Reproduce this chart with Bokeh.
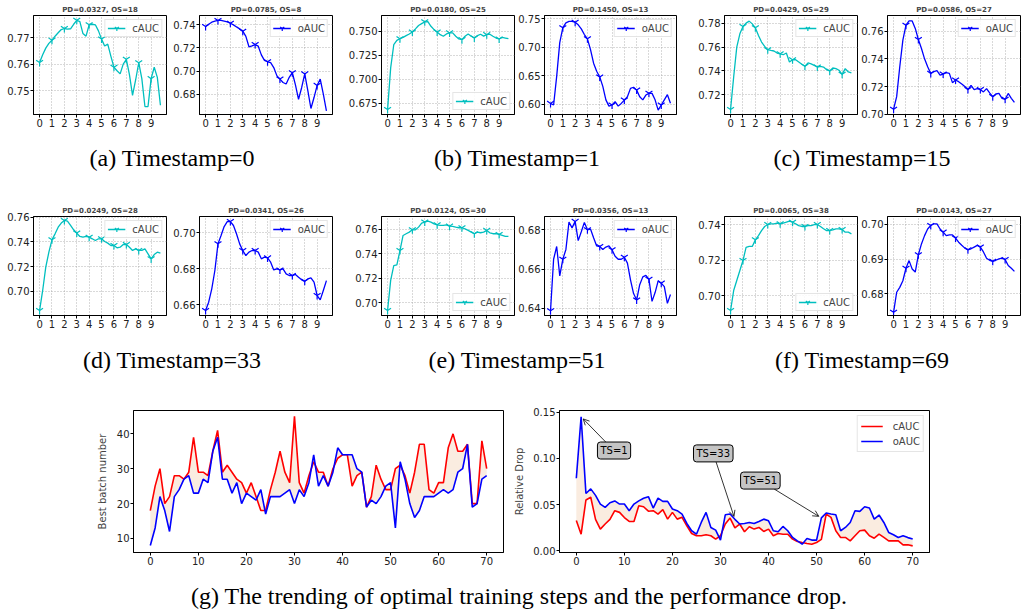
from bokeh.plotting import figure
from bokeh.layouts import column, row
from bokeh.models import (Range1d, FixedTicker, PrintfTickFormatter, Label, Div,
                          Arrow, OpenHead)
from bokeh.embed import file_html
from bokeh.resources import INLINE

# ---------------- data ----------------
N_PTS = 40
xs = [i * 0.25 for i in range(N_PTS)]          # sampling positions on the x axis
x_ticks_small = [0, 1, 2, 3, 4, 5, 6, 7, 8, 9]

cAUC_a = [0.7606,0.7635,0.7660,0.7678,0.7690,0.7705,0.7718,0.7730,0.7734,0.7732,
          0.7733,0.7750,0.7765,0.7760,0.7715,0.7705,0.7748,0.7750,0.7748,0.7725,
          0.7694,0.7668,0.7675,0.7630,0.7588,0.7575,0.7563,0.7600,0.7618,0.7560,
          0.7482,0.7540,0.7605,0.7545,0.7440,0.7440,0.7545,0.7588,0.7550,0.7445]
oAUC_a = [0.7386,0.7405,0.7423,0.7433,0.7438,0.7438,0.7432,0.7425,0.7414,0.7400,
          0.7382,0.7365,0.7345,0.7300,0.7210,0.7218,0.7229,0.7215,0.7140,0.7092,
          0.7080,0.7072,0.7030,0.6960,0.6930,0.6900,0.6887,0.6945,0.6985,0.6880,
          0.6755,0.6855,0.6975,0.6830,0.6675,0.6770,0.6875,0.6930,0.6800,0.6655]
cAUC_b = [0.6686,0.7120,0.7360,0.7406,0.7423,0.7437,0.7455,0.7472,0.7493,0.7525,
          0.7560,0.7580,0.7598,0.7600,0.7552,0.7517,0.7493,0.7465,0.7448,0.7472,
          0.7483,0.7483,0.7448,0.7420,0.7413,0.7448,0.7472,0.7448,0.7430,0.7455,
          0.7469,0.7450,0.7465,0.7470,0.7448,0.7430,0.7420,0.7437,0.7430,0.7423]
oAUC_b = [0.6018,0.5990,0.6490,0.7080,0.7340,0.7424,0.7450,0.7450,0.7436,0.7390,
          0.7320,0.7220,0.7145,0.6958,0.6720,0.6580,0.6480,0.6315,0.6080,0.5970,
          0.5990,0.6047,0.5970,0.6018,0.6076,0.6135,0.6280,0.6300,0.6250,0.6135,
          0.6080,0.6164,0.6193,0.6193,0.6080,0.5900,0.5990,0.6080,0.6170,0.6020]
cAUC_c = [0.7078,0.7350,0.7600,0.7711,0.7772,0.7800,0.7817,0.7794,0.7761,0.7697,
          0.7642,0.7606,0.7578,0.7572,0.7567,0.7550,0.7544,0.7536,0.7550,0.7475,
          0.7494,0.7494,0.7475,0.7456,0.7439,0.7467,0.7460,0.7447,0.7433,0.7439,
          0.7433,0.7411,0.7400,0.7425,0.7420,0.7406,0.7372,0.7420,0.7392,0.7385]
oAUC_c = [0.7036,0.7127,0.7343,0.7535,0.7643,0.7674,0.7674,0.7620,0.7540,0.7475,
          0.7400,0.7343,0.7295,0.7307,0.7315,0.7283,0.7290,0.7300,0.7295,0.7228,
          0.7247,0.7235,0.7218,0.7200,0.7178,0.7209,0.7178,0.7185,0.7178,0.7161,
          0.7185,0.7154,0.7127,0.7146,0.7150,0.7115,0.7108,0.7150,0.7115,0.7085]
cAUC_d = [0.6846,0.7008,0.7196,0.7317,0.7417,0.7465,0.7519,0.7552,0.7573,0.7568,
          0.7533,0.7498,0.7471,0.7444,0.7438,0.7444,0.7438,0.7425,0.7411,0.7425,
          0.7425,0.7403,0.7390,0.7371,0.7371,0.7352,0.7357,0.7379,0.7379,0.7357,
          0.7331,0.7344,0.7331,0.7331,0.7344,0.7304,0.7263,0.7298,0.7317,0.7309]
oAUC_d = [0.6569,0.6615,0.6689,0.6791,0.6939,0.6985,0.7035,0.7063,0.7063,0.7041,
          0.6994,0.6939,0.6902,0.6874,0.6893,0.6902,0.6902,0.6893,0.6856,0.6865,
          0.6861,0.6837,0.6794,0.6800,0.6794,0.6800,0.6772,0.6763,0.6763,0.6769,
          0.6754,0.6739,0.6731,0.6744,0.6750,0.6726,0.6652,0.6628,0.6680,0.6735]
cAUC_e = [0.6937,0.7183,0.7305,0.7311,0.7427,0.7551,0.7565,0.7578,0.7597,0.7597,
          0.7619,0.7652,0.7660,0.7668,0.7660,0.7646,0.7638,0.7633,0.7633,0.7638,
          0.7627,0.7625,0.7619,0.7614,0.7614,0.7605,0.7592,0.7578,0.7565,0.7578,
          0.7573,0.7578,0.7592,0.7573,0.7565,0.7565,0.7559,0.7551,0.7543,0.7543]
oAUC_e = [0.6387,0.6650,0.6715,0.6565,0.6650,0.6700,0.6840,0.6810,0.6843,0.6745,
          0.6790,0.6838,0.6800,0.6804,0.6760,0.6718,0.6715,0.6700,0.6712,0.6718,
          0.6698,0.6665,0.6650,0.6650,0.6660,0.6630,0.6545,0.6475,0.6442,0.6520,
          0.6560,0.6568,0.6548,0.6435,0.6480,0.6540,0.6528,0.6510,0.6425,0.6470]
cAUC_f = [0.6918,0.7030,0.7086,0.7142,0.7198,0.7272,0.7277,0.7277,0.7314,0.7338,
          0.7366,0.7389,0.7400,0.7404,0.7404,0.7408,0.7404,0.7408,0.7413,0.7419,
          0.7413,0.7404,0.7394,0.7389,0.7389,0.7394,0.7394,0.7400,0.7400,0.7389,
          0.7376,0.7366,0.7366,0.7370,0.7376,0.7376,0.7372,0.7357,0.7357,0.7348]
oAUC_f = [0.6747,0.6805,0.6819,0.6838,0.6874,0.6896,0.6872,0.6863,0.6913,0.6944,
          0.6968,0.6987,0.6997,0.7002,0.7002,0.6987,0.6978,0.6968,0.6970,0.6970,
          0.6961,0.6949,0.6940,0.6932,0.6927,0.6930,0.6935,0.6940,0.6935,0.6921,
          0.6903,0.6897,0.6894,0.6897,0.6901,0.6903,0.6899,0.6882,0.6874,0.6865]

timestamps = [0, 1, 15, 33, 51, 69]

# y tick values of the small panels  (cAUC, oAUC) per timestamp
yticks_c = [[0.75, 0.76, 0.77], [0.675, 0.700, 0.725, 0.750], [0.72, 0.74, 0.76, 0.78],
            [0.70, 0.72, 0.74, 0.76], [0.70, 0.72, 0.74, 0.76], [0.70, 0.72, 0.74]]
yticks_o = [[0.68, 0.70, 0.72, 0.74], [0.60, 0.65, 0.70, 0.75], [0.70, 0.72, 0.74, 0.76],
            [0.66, 0.68, 0.70], [0.64, 0.66, 0.68], [0.68, 0.69, 0.70]]
yfmt_c = ["%.2f", "%.3f", "%.2f", "%.2f", "%.2f", "%.2f"]
yfmt_o = ["%.2f", "%.2f", "%.2f", "%.2f", "%.2f", "%.2f"]
yrange_c = [(0.7410, 0.7783), (0.6635, 0.7664), (0.7036, 0.7864),
            (0.6806, 0.7605), (0.6896, 0.7706), (0.6890, 0.7445)]
yrange_o = [(0.6623, 0.7481), (0.5824, 0.7553), (0.6998, 0.7713),
            (0.6541, 0.7091), (0.6363, 0.6868), (0.6738, 0.7023)]
legend_loc_c = ["top_right", "bottom_right", "top_right", "top_right", "bottom_right", "bottom_right"]
legend_loc_o = ["top_right"] * 6

series_c = [cAUC_a, cAUC_b, cAUC_c, cAUC_d, cAUC_e, cAUC_f]
series_o = [oAUC_a, oAUC_b, oAUC_c, oAUC_d, oAUC_e, oAUC_f]

# trend over timestamps 0..70
ts_all = list(range(71))
best_c = [18,25,30,20,22,28,28,27,29,39, 29,29,28,35,41,29,31,29,27,26,
          23,26,22,18,18,24,29,35,29,26, 45,26,23,28,32,29,29,25,30,33,
          34,34,25,28,29,19,22,31,27,24, 24,30,31,28,23,29,37,37,24,23,
          26,26,36,40,35,35,37,20,20,38, 30]
best_o = [8,13,22,18,12,22,24,27,28,23, 23,27,26,35,39,27,27,23,26,20,
          23,22,21,24,17,22,22,22,23,24, 20,24,22,26,34,25,28,25,29,36,
          34,34,34,30,29,19,21,20,22,25, 26,13,32,27,20,16,18,22,22,22,
          23,24,23,24,29,30,37,19,20,27, 28]
drop_c = [0.0327,0.018,0.055,0.058,0.034,0.0235,0.029,0.034,0.0434,0.0416,
          0.036,0.0318,0.0318,0.0488,0.0477,0.0429,0.0434,0.0398,0.0445,0.0343,
          0.0416,0.0343,0.0362,0.0271,0.0188,0.0163,0.0163,0.0174,0.0163,0.0127,
          0.0163,0.029,0.0354,0.0249,0.029,0.0206,0.026,0.0235,0.0253,0.021,
          0.0235,0.0163,0.0188,0.018,0.018,0.0127,0.0101,0.009,0.008,0.0072,
          0.009,0.0124,0.0398,0.0362,0.0217,0.0145,0.0145,0.0108,0.0163,0.0217,
          0.0224,0.0163,0.0137,0.018,0.0145,0.0108,0.0108,0.0108,0.0065,0.0065,
          0.0054]
drop_o = [0.0785,0.145,0.062,0.067,0.060,0.0506,0.047,0.052,0.054,0.0506,
          0.0506,0.0434,0.0506,0.054,0.0568,0.0586,0.0463,0.0571,0.0535,0.0535,
          0.0452,0.0434,0.0398,0.0296,0.0217,0.018,0.0307,0.0416,0.0253,0.0224,
          0.0116,0.039,0.0398,0.0341,0.029,0.0296,0.0307,0.0296,0.0318,0.0343,
          0.0325,0.0217,0.0206,0.0264,0.0217,0.0145,0.0108,0.0072,0.0134,0.0116,
          0.0116,0.0356,0.0409,0.0398,0.039,0.0217,0.0253,0.0307,0.0434,0.0427,
          0.0477,0.0463,0.0343,0.0387,0.0307,0.0199,0.0174,0.0145,0.0163,0.0143,
          0.0127]
x_ticks_big = [0, 10, 20, 30, 40, 50, 60, 70]
y_ticks_best = [10, 20, 30, 40]
y_ticks_drop = [0.0, 0.05, 0.10, 0.15]

ann_text = ["TS=1", "TS=33", "TS=51"]
ann_ts = [1, 33, 51]
ann_x = [7.85, 28.5, 38.3]
ann_y = [0.1085, 0.1054, 0.0760]

captions_top = ["(a) Timestamp=0", "(b) Timestamp=1", "(c) Timestamp=15"]
captions_mid = ["(d) Timestamp=33", "(e) Timestamp=51", "(f) Timestamp=69"]
caption_bottom = "(g) The trending of optimal training steps and the performance drop."

# ---------------- layout constants ----------------
TOTAL_W = 1021
XR = (-0.49, 10.24)
COLS = [(33, 133, 1), (32, 133, 1), (48, 133, 1), (28, 133, 1), (47, 133, 1), (28, 134, 1)]
CAP_CENTERS = [172, 517, 862]
C_COLOR = "#00bfbf"
O_COLOR = "#0000ff"
FONT = "DejaVu Sans"


def style_axes(p, size="10px"):
    for ax in list(p.xaxis) + list(p.yaxis):
        ax.major_tick_out = 3
        ax.major_tick_in = 0
        ax.minor_tick_out = 0
        ax.minor_tick_in = 0
        ax.major_tick_line_color = "black"
        ax.axis_line_color = "black"
        ax.major_label_text_font = FONT
        ax.major_label_text_font_size = size
        ax.major_label_text_color = "#222222"
        ax.major_label_standoff = 1
        ax.axis_label_text_font = FONT
        ax.axis_label_text_font_size = size
        ax.axis_label_text_font_style = "normal"
    p.outline_line_color = "black"
    p.outline_line_width = 1
    p.border_fill_color = "white"
    p.background_fill_color = "white"


def small_plot(vals, label, color, yr, yticks, yfmt, loc, title, geom, top, fh, bottom):
    left, fw, right = geom
    p = figure(width=left + fw + right, height=top + fh + bottom,
               x_range=Range1d(*XR), y_range=Range1d(*yr),
               output_backend="svg", toolbar_location=None,
               min_border_left=left, min_border_right=right,
               min_border_top=top, min_border_bottom=bottom)
    p.line(xs, vals, line_color=color, line_width=1.3, legend_label=label)
    p.scatter(xs[::4], vals[::4], marker="y", size=8, line_color=color,
              line_width=1.2, legend_label=label)
    style_axes(p)
    p.xaxis.ticker = FixedTicker(ticks=x_ticks_small)
    p.yaxis.ticker = FixedTicker(ticks=yticks)
    p.yaxis.formatter = PrintfTickFormatter(format=yfmt)
    p.grid.grid_line_color = "#a0a0a0"
    p.grid.grid_line_dash = "1 2"
    p.grid.grid_line_width = 0.8
    lg = p.legend[0]
    lg.location = loc
    lg.label_text_font = FONT
    lg.label_text_font_size = "10px"
    lg.glyph_width = 18
    lg.glyph_height = 12
    lg.label_height = 12
    lg.padding = 2
    lg.spacing = 0
    lg.margin = 4
    lg.label_standoff = 7
    lg.border_line_color = "#cccccc"
    lg.background_fill_alpha = 0.85
    p.title.text = title
    p.title.align = "center"
    p.title.text_font = FONT
    p.title.text_font_style = "bold"
    p.title.text_font_size = "7px"
    p.title.standoff = 4
    p.title.offset = 0
    return p


def small_row(idx_list, top, fh, bottom):
    figs = []
    for k, i in enumerate(idx_list):
        ts = timestamps[i]
        tc = "PD=%.4f, OS=%d" % (drop_c[ts], best_c[ts])
        to = "PD=%.4f, OS=%d" % (drop_o[ts], best_o[ts])
        figs.append(small_plot(series_c[i], "cAUC", C_COLOR, yrange_c[i], yticks_c[i], yfmt_c[i],
                               legend_loc_c[i], tc, COLS[2 * k], top, fh, bottom))
        figs.append(small_plot(series_o[i], "oAUC", O_COLOR, yrange_o[i], yticks_o[i], yfmt_o[i],
                               legend_loc_o[i], to, COLS[2 * k + 1], top, fh, bottom))
    return row(*figs)


def caption_div(texts, centers, height, cy):
    spans = "".join(
        '<span style="position:absolute;left:%dpx;top:%dpx;transform:translateX(-50%%);'
        'white-space:nowrap;line-height:24px;">%s</span>' % (c, cy - 12, t)
        for t, c in zip(texts, centers))
    html = ('<div style="position:relative;width:%dpx;height:%dpx;'
            'font-family:\'Liberation Serif\',\'Times New Roman\',serif;font-size:24px;color:#000;">%s</div>'
            % (TOTAL_W, height, spans))
    return Div(text=html, width=TOTAL_W, height=height, margin=(0, 0, 0, 0))


row1 = small_row([0, 1, 2], 15, 99, 26)
cap1 = caption_div(captions_top, CAP_CENTERS, 40, 18)
row2 = small_row([3, 4, 5], 36, 99, 25)
cap2 = caption_div(captions_mid, CAP_CENTERS, 40, 20)

# ---------------- bottom left ----------------
pl = figure(width=133 + 370 + 2, height=30 + 142 + 23,
            x_range=Range1d(-3.5, 73.5), y_range=Range1d(5.97, 46.7),
            output_backend="svg", toolbar_location=None,
            min_border_left=133, min_border_right=2, min_border_top=30, min_border_bottom=23)
pl.varea(x=ts_all, y1=best_c, y2=best_o, fill_color="#faece0")
pl.line(ts_all, best_c, line_color="red", line_width=1.6)
pl.line(ts_all, best_o, line_color="blue", line_width=1.6)
style_axes(pl)
pl.grid.visible = False
pl.xaxis.ticker = FixedTicker(ticks=x_ticks_big)
pl.yaxis.ticker = FixedTicker(ticks=y_ticks_best)
pl.yaxis.axis_label = "Best batch number"
pl.yaxis.axis_label_standoff = 6

# ---------------- bottom right ----------------
pr = figure(width=54 + 370 + 2, height=30 + 142 + 23,
            x_range=Range1d(-3.5, 73.5), y_range=Range1d(-0.0018, 0.1518),
            output_backend="svg", toolbar_location=None,
            min_border_left=54, min_border_right=2, min_border_top=30, min_border_bottom=23)
pr.varea(x=ts_all, y1=drop_c, y2=drop_o, fill_color="#faece0")
pr.line(ts_all, drop_c, line_color="red", line_width=1.6, legend_label="cAUC")
pr.line(ts_all, drop_o, line_color="blue", line_width=1.6, legend_label="oAUC")
style_axes(pr)
pr.grid.visible = False
pr.xaxis.ticker = FixedTicker(ticks=x_ticks_big)
pr.yaxis.ticker = FixedTicker(ticks=y_ticks_drop)
pr.yaxis.formatter = PrintfTickFormatter(format="%.2f")
pr.yaxis.axis_label = "Relative Drop"
pr.yaxis.axis_label_standoff = 5
lg = pr.legend[0]
lg.location = "top_right"
lg.label_text_font = FONT
lg.label_text_font_size = "10px"
lg.glyph_width = 22
lg.glyph_height = 14
lg.label_height = 14
lg.padding = 3
lg.spacing = 1
lg.margin = 5
lg.label_standoff = 10
lg.border_line_color = "#cccccc"

PX_X = 370 / 77.0
PX_Y = 142 / 0.1536
for txt, ts, tx, ty in zip(ann_text, ann_ts, ann_x, ann_y):
    gx, gy = ts, drop_o[ts]
    dx, dy = (gx - tx) * PX_X, (gy - ty) * PX_Y
    hw, hh = len(txt) * 3.4 + 4, 8.5
    t = min(hw / abs(dx), hh / abs(dy))
    L = (dx ** 2 + dy ** 2) ** 0.5
    s = 3.0 / L
    pr.add_layout(Arrow(x_start=tx + (gx - tx) * t, y_start=ty + (gy - ty) * t,
                        x_end=gx - (gx - tx) * s, y_end=gy - (gy - ty) * s,
                        line_color="black", line_width=0.8,
                        end=OpenHead(size=6, line_width=0.8, line_color="black")))
    pr.add_layout(Label(x=tx, y=ty, text=txt, text_align="center", text_baseline="middle",
                        text_font=FONT, text_font_size="10px", text_color="black",
                        background_fill_color="#c4c4c4", border_line_color="black",
                        border_line_width=1, padding=3, border_radius=3))

row3 = row(pl, pr)
cap3 = caption_div([caption_bottom], [519], 38, 21)

layout = column(row1, cap1, row2, cap2, row3, cap3)
open("out.html", "w").write(file_html(layout, INLINE))
